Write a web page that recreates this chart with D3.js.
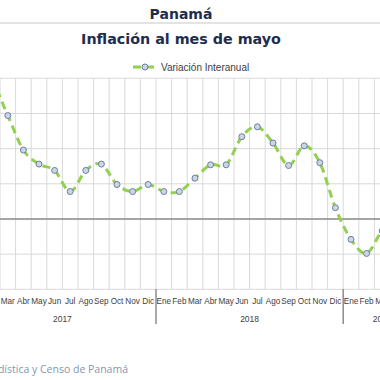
<!DOCTYPE html>
<html><head><meta charset="utf-8">
<script src="https://cdn.jsdelivr.net/npm/d3@7"></script>
<style>html,body{margin:0;padding:0;background:#fff;overflow:hidden}</style>
</head><body>
<script>
const months = ["Ene","Feb","Mar","Abr","May","Jun","Jul","Ago","Sep","Oct","Nov","Dic",
                "Ene","Feb","Mar","Abr","May","Jun","Jul","Ago","Sep","Oct","Nov","Dic",
                "Ene","Feb","Mar","Abr","May"];
const years = ["2017","2018","2019"];
const yearOf = [2017,2017,2017,2017,2017,2017,2017,2017,2017,2017,2017,2017,
                2018,2018,2018,2018,2018,2018,2018,2018,2018,2018,2018,2018,
                2019,2019,2019,2019,2019];
const values = [2.0,1.95,1.47,0.98,0.78,0.69,0.39,0.69,0.78,0.49,0.39,0.49,
                0.39,0.39,0.58,0.77,0.77,1.17,1.31,1.08,0.76,1.04,0.80,0.16,
                -0.29,-0.49,-0.17,-0.05,0.0];
const yTicks = [-1,-0.5,0,0.5,1,1.5,2];
const seriesName = "Variación Interanual";

const W=380,H=380;
const svg=d3.select("body").append("svg").attr("width",W).attr("height",H);
const idx=d3.range(months.length);
const x=d3.scaleBand().domain(idx).range([-31.2,-31.2+15.6*months.length]).padding(0);
const cx=i=>x(i)+x.bandwidth()/2;
const y=d3.scaleLinear().domain([-1,2]).range([289.3,78.3]);

// titles
svg.append("text").attr("x",181).attr("y",19).attr("text-anchor","middle")
  .attr("font-family","DejaVu Sans").attr("font-weight","bold").attr("font-size",14)
  .attr("fill","#1f2d4d").text("Panamá");
svg.append("line").attr("x1",0).attr("x2",W).attr("y1",23).attr("y2",23)
  .attr("stroke","#e3e3e3").attr("stroke-width",2);
svg.append("text").attr("x",181).attr("y",43.5).attr("text-anchor","middle")
  .attr("font-family","DejaVu Sans").attr("font-weight","bold").attr("font-size",14.3)
  .attr("fill","#1f2d4d").text("Inflación al mes de mayo");

// grid
const g=svg.append("g");
g.selectAll(".hg").data(yTicks).join("line")
  .attr("x1",0).attr("x2",W).attr("y1",d=>y(d)).attr("y2",d=>y(d))
  .attr("stroke","#d9d9d9").attr("stroke-width",1);
g.selectAll(".vg").data(d3.range(months.length+1)).join("line")
  .attr("x1",i=>x.range()[0]+i*x.bandwidth()).attr("x2",i=>x.range()[0]+i*x.bandwidth())
  .attr("y1",y(2)).attr("y2",y(-1)).attr("stroke","#d9d9d9").attr("stroke-width",1);
g.append("line").attr("x1",0).attr("x2",W).attr("y1",y(0)).attr("y2",y(0))
  .attr("stroke","#8c8c8c").attr("stroke-width",1.5);

// x labels
svg.append("g").selectAll("text").data(idx).join("text")
  .attr("x",i=>cx(i)).attr("y",303.5).attr("text-anchor","middle")
  .attr("font-family","Liberation Sans").attr("font-size",8.2)
  .attr("fill","#404040").text(i=>months[i]);
// year groups
years.forEach(yr=>{
  const ids=idx.filter(i=>yearOf[i]===+yr);
  const x0=x(ids[0]), x1=x(ids[ids.length-1])+x.bandwidth();
  svg.append("text").attr("x",(x0+x1)/2).attr("y",321.5).attr("text-anchor","middle")
    .attr("font-family","Liberation Sans").attr("font-size",8.5)
    .attr("fill","#404040").text(yr);
  if(yr!==years[0]) svg.append("line").attr("x1",x0).attr("x2",x0).attr("y1",289).attr("y2",324)
    .attr("stroke","#8c8c8c").attr("stroke-width",1.5);
});

// line
const line=d3.line().x((d,i)=>cx(i)).y(d=>y(d)).curve(d3.curveCardinal.tension(0));
svg.append("path").datum(values).attr("d",line).attr("fill","none")
  .attr("stroke","#92d050").attr("stroke-width",3).attr("stroke-dasharray","8,5");
svg.append("g").selectAll("circle").data(values).join("circle")
  .attr("cx",(d,i)=>cx(i)).attr("cy",d=>y(d)).attr("r",3)
  .attr("fill","#cdd5e4").attr("stroke","#6b7fa3").attr("stroke-width",1);

// legend
const lg=svg.append("g");
lg.append("line").attr("x1",133).attr("x2",157).attr("y1",67).attr("y2",67)
  .attr("stroke","#92d050").attr("stroke-width",3).attr("stroke-dasharray","8,5");
lg.append("circle").attr("cx",145).attr("cy",67).attr("r",3)
  .attr("fill","#cdd5e4").attr("stroke","#6b7fa3").attr("stroke-width",1);
lg.append("text").attr("x",161).attr("y",71).attr("font-family","Liberation Sans")
  .attr("font-size",10).attr("fill","#404040").text(seriesName);

// source
svg.append("text").attr("x",128).attr("y",373).attr("text-anchor","end")
  .attr("font-family","Open Sans").attr("font-size",10.5).attr("fill","#8596b0")
  .text("Fuente: Instituto Nacional de Estadística y Censo de Panamá");
</script>
</body></html>
